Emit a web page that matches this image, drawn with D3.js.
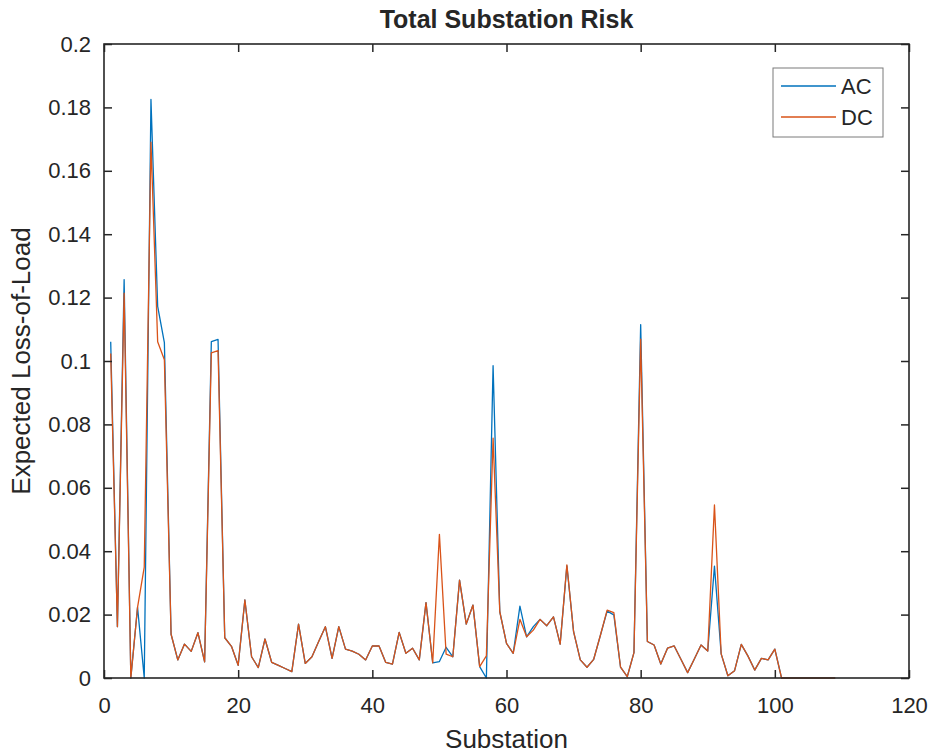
<!DOCTYPE html>
<html lang="en">
<head>
  <meta charset="UTF-8">
  <title>Total Substation Risk</title>
  <script src="https://cdn.jsdelivr.net/npm/d3@7"></script>
  <style>
    html, body { margin: 0; padding: 0; background: #fff; }
    svg text { font-family: Arial, "Liberation Sans", Helvetica, sans-serif; fill: #262626; }
  </style>
</head>
<body>
<svg width="928" height="755"></svg>
<script>
// substation index (x)
var substation = [1,2,3,4,5,6,7,8,9,10,11,12,13,14,15,16,17,18,19,20,
  21,22,23,24,25,26,27,28,29,30,31,32,33,34,35,36,37,38,39,40,
  41,42,43,44,45,46,47,48,49,50,51,52,53,54,55,56,57,58,59,60,
  61,62,63,64,65,66,67,68,69,70,71,72,73,74,75,76,77,78,79,80,
  81,82,83,84,85,86,87,88,89,90,91,92,93,94,95,96,97,98,99,100,
  101,102,103,104,105,106,107,108,109];

// expected loss-of-load, AC model
var acRisk = [0.1061,0.0162,0.1257,0,0.0223,0,0.1825,0.1172,0.1058,0.0138,
  0.0057,0.0107,0.0084,0.0143,0.0051,0.1061,0.1068,0.0127,0.0100,0.0040,
  0.0246,0.0067,0.0033,0.0123,0.0049,0.0040,0.0030,0.0020,0.0170,0.0046,
  0.0067,0.0115,0.0162,0.0062,0.0162,0.0091,0.0085,0.0075,0.0057,0.0101,
  0.0101,0.0049,0.0044,0.0144,0.0078,0.0094,0.0057,0.0238,0.0048,0.0052,
  0.0097,0.0067,0.0309,0.0170,0.0230,0.0036,0,0.0985,0.0209,0.0109,
  0.0078,0.0227,0.0130,0.0162,0.0185,0.0165,0.0193,0.0107,0.0354,0.0146,
  0.0057,0.0034,0.0059,0.0135,0.0211,0.0199,0.0034,0.0004,0.0080,0.1115,
  0.0115,0.0104,0.0044,0.0094,0.0101,0.0059,0.0017,0.0060,0.0104,0.0085,
  0.0353,0.0076,0.0007,0.0023,0.0106,0.0069,0.0025,0.0062,0.0057,0.0091,
  0,0,0,0,0,0,0,0,0];

// expected loss-of-load, DC model
var dcRisk = [0.1024,0.0162,0.1214,0,0.0223,0.0350,0.1690,0.1061,0.1004,0.0138,
  0.0057,0.0107,0.0084,0.0143,0.0051,0.1026,0.1033,0.0127,0.0100,0.0040,
  0.0246,0.0067,0.0033,0.0123,0.0049,0.0040,0.0030,0.0020,0.0170,0.0046,
  0.0067,0.0115,0.0162,0.0062,0.0162,0.0091,0.0085,0.0075,0.0057,0.0101,
  0.0101,0.0049,0.0044,0.0144,0.0078,0.0094,0.0057,0.0238,0.0048,0.0453,
  0.0075,0.0067,0.0309,0.0170,0.0230,0.0036,0.0070,0.0757,0.0209,0.0109,
  0.0078,0.0185,0.0130,0.0151,0.0185,0.0165,0.0193,0.0107,0.0357,0.0146,
  0.0057,0.0034,0.0059,0.0135,0.0214,0.0206,0.0034,0.0004,0.0080,0.1069,
  0.0115,0.0104,0.0044,0.0094,0.0101,0.0059,0.0017,0.0060,0.0104,0.0085,
  0.0546,0.0076,0.0007,0.0023,0.0106,0.0069,0.0025,0.0062,0.0057,0.0091,
  0,0,0,0,0,0,0,0,0];

var xTicks = [0, 20, 40, 60, 80, 100, 120];
var yTicks = [0, 0.02, 0.04, 0.06, 0.08, 0.1, 0.12, 0.14, 0.16, 0.18, 0.2];
var seriesNames = ["AC", "DC"];
var seriesColors = ["#0072BD", "#D95319"];

var svg = d3.select("svg"),
    margin = { top: 44, right: 19, bottom: 77, left: 104 },
    width = +svg.attr("width") - margin.left - margin.right,
    height = +svg.attr("height") - margin.top - margin.bottom,
    g = svg.append("g").attr("transform", "translate(" + margin.left + "," + margin.top + ")");

var x = d3.scaleLinear().domain([0, 120]).range([0, width]);
var y = d3.scaleLinear().domain([0, 0.2]).range([height, 0]);

var axisColor = "#262626", tickLen = 8;

// data lines (AC under DC)
var line = d3.line().x(function (d) { return x(d[0]); }).y(function (d) { return y(d[1]); });
[acRisk, dcRisk].forEach(function (vals, i) {
  g.append("path")
    .datum(substation.map(function (s, j) { return [s, vals[j]]; }))
    .attr("fill", "none")
    .attr("stroke", seriesColors[i])
    .attr("stroke-width", 1.3)
    .attr("stroke-linejoin", "round")
    .attr("d", line);
});

function styleAxis(sel) {
  sel.select(".domain").remove();
  sel.selectAll(".tick line").attr("stroke", axisColor).attr("stroke-width", 1.5);
  sel.selectAll("text").attr("font-size", 22).attr("fill", axisColor);
}

// bottom axis, ticks pointing inward
g.append("g")
  .attr("transform", "translate(0," + height + ")")
  .call(d3.axisBottom(x).tickValues(xTicks).tickFormat(d3.format("d"))
    .tickSizeInner(-tickLen).tickSizeOuter(0).tickPadding(19))
  .call(styleAxis)
  .selectAll("text").attr("dy", "0.71em");

g.append("g")
  .call(d3.axisTop(x).tickValues(xTicks).tickFormat("").tickSizeInner(-tickLen).tickSizeOuter(0))
  .call(styleAxis);

g.append("g")
  .call(d3.axisLeft(y).tickValues(yTicks).tickFormat(function (d) { return d3.format("")(+d.toFixed(2)); })
    .tickSizeInner(-tickLen).tickSizeOuter(0).tickPadding(13))
  .call(styleAxis);

g.append("g")
  .attr("transform", "translate(" + width + ",0)")
  .call(d3.axisRight(y).tickValues(yTicks).tickFormat("").tickSizeInner(-tickLen).tickSizeOuter(0))
  .call(styleAxis);

// box
g.append("rect")
  .attr("width", width).attr("height", height)
  .attr("fill", "none").attr("stroke", axisColor).attr("stroke-width", 1.6);

// title and labels
svg.append("text")
  .attr("x", margin.left + width / 2).attr("y", 28)
  .attr("text-anchor", "middle")
  .attr("font-size", 25).attr("font-weight", "bold").attr("fill", "#000")
  .text("Total Substation Risk");

svg.append("text")
  .attr("x", margin.left + width / 2).attr("y", 748)
  .attr("text-anchor", "middle")
  .attr("font-size", 26)
  .text("Substation");

svg.append("text")
  .attr("transform", "translate(30," + (margin.top + height / 2) + ") rotate(-90)")
  .attr("text-anchor", "middle")
  .attr("font-size", 26)
  .text("Expected Loss-of-Load");

// legend
var legend = g.append("g").attr("transform", "translate(" + (width - 136) + ",24)");
legend.append("rect")
  .attr("width", 110).attr("height", 69)
  .attr("fill", "#fff").attr("stroke", "#7a7a7a").attr("stroke-width", 1);
seriesNames.forEach(function (name, i) {
  var ly = 18 + i * 31;
  legend.append("line")
    .attr("x1", 8).attr("x2", 63).attr("y1", ly).attr("y2", ly)
    .attr("stroke", seriesColors[i]).attr("stroke-width", 1.5);
  legend.append("text")
    .attr("x", 68).attr("y", ly).attr("dy", "0.35em")
    .attr("font-size", 22)
    .text(name);
});
</script>
</body>
</html>
